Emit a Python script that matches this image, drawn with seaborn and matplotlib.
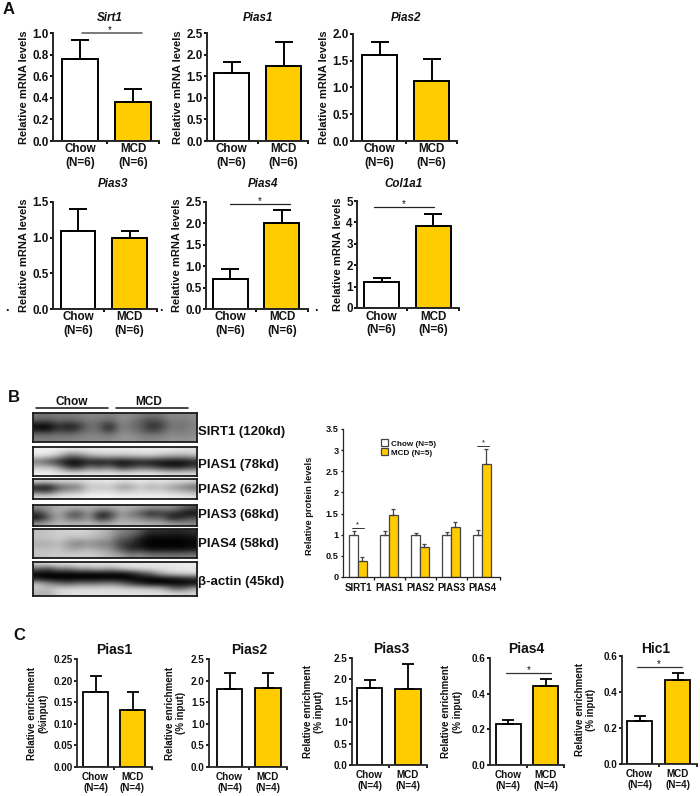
import pandas as pd
import matplotlib
matplotlib.use("Agg")
import matplotlib.pyplot as plt
from matplotlib.transforms import ScaledTranslation
import seaborn as sns

W, H = 700, 796
WHITE = "#FFFFFF"
GOLD = "#FFCC00"

groups = ["Chow", "MCD"]

# Panel A: bar height, error
sirt1, sirt1_err = [0.76, 0.36], [0.175, 0.125]
pias1, pias1_err = [1.57, 1.74], [0.25, 0.56]
pias2, pias2_err = [1.60, 1.12], [0.25, 0.42]
pias3, pias3_err = [1.09, 0.99], [0.31, 0.11]
pias4, pias4_err = [0.69, 2.01], [0.24, 0.31]
col1a1, col1a1_err = [1.23, 3.83], [0.17, 0.58]

# Panel B: protein levels
proteins = ["SIRT1", "PIAS1", "PIAS2", "PIAS3", "PIAS4"]
chow_prot, chow_prot_err = [1, 1, 1, 1, 1], [0.09, 0.09, 0.05, 0.07, 0.12]
mcd_prot, mcd_prot_err = [0.37, 1.47, 0.72, 1.19, 2.68], [0.11, 0.13, 0.07, 0.12, 0.35]

# Panel C: ChIP enrichment
c_pias1, c_pias1_err = [0.173, 0.133], [0.037, 0.040]
c_pias2, c_pias2_err = [1.80, 1.83], [0.38, 0.34]
c_pias3, c_pias3_err = [1.80, 1.78], [0.18, 0.58]
c_pias4, c_pias4_err = [0.23, 0.445], [0.02, 0.038]
c_hic1, c_hic1_err = [0.24, 0.465], [0.025, 0.04]

# Blot gray levels, 16 columns across the six lanes
blot_sirt1 = [
    [120, 115, 125, 120, 125, 135, 135, 125, 140, 140, 125, 115, 120, 140, 135, 140],
    [95, 85, 110, 100, 110, 125, 120, 105, 140, 130, 100, 75, 90, 130, 120, 135],
    [10, 5, 60, 25, 55, 115, 100, 30, 135, 115, 95, 45, 60, 125, 110, 130],
    [25, 15, 65, 40, 70, 120, 105, 40, 135, 125, 100, 60, 80, 130, 115, 135],
    [110, 105, 115, 110, 120, 130, 130, 115, 145, 140, 125, 115, 120, 140, 130, 140],
    [130, 125, 130, 130, 135, 140, 140, 135, 150, 150, 140, 135, 140, 150, 145, 150],
]
blot_pias1 = [
    [240, 240, 240, 235, 235, 235, 235, 235, 235, 235, 235, 235, 235, 235, 230, 225],
    [235, 225, 190, 110, 120, 175, 190, 200, 190, 200, 205, 215, 190, 180, 170, 190],
    [110, 70, 30, 0, 0, 20, 5, 15, 0, 5, 15, 5, 5, 0, 0, 15],
    [200, 200, 160, 50, 45, 120, 90, 125, 45, 65, 100, 85, 50, 30, 30, 70],
    [240, 240, 235, 230, 230, 230, 230, 235, 230, 230, 235, 235, 230, 225, 225, 225],
]
blot_pias2 = [
    [215, 205, 215, 215, 215, 225, 230, 235, 225, 225, 235, 225, 230, 225, 220, 215],
    [30, 10, 90, 110, 125, 205, 190, 200, 155, 155, 205, 170, 190, 155, 140, 100],
    [80, 65, 145, 170, 175, 215, 215, 225, 200, 205, 220, 205, 215, 195, 185, 165],
    [225, 220, 230, 235, 240, 245, 245, 245, 240, 240, 240, 240, 240, 235, 235, 230],
]
blot_pias3 = [
    [140, 155, 180, 185, 180, 180, 170, 175, 185, 180, 170, 150, 155, 150, 115, 85],
    [55, 125, 180, 100, 75, 165, 45, 55, 160, 125, 85, 35, 55, 60, 20, 5],
    [5, 85, 175, 110, 100, 160, 25, 70, 170, 140, 135, 95, 110, 20, 45, 80],
    [155, 170, 190, 185, 185, 185, 175, 175, 190, 185, 185, 175, 175, 160, 150, 140],
]
blot_pias4 = [
    [190, 195, 205, 210, 215, 205, 190, 170, 130, 120, 90, 40, 50, 40, 40, 50],
    [195, 200, 210, 190, 195, 190, 180, 160, 100, 90, 30, 5, 5, 5, 5, 15],
    [170, 165, 190, 150, 120, 150, 115, 130, 60, 45, 10, 0, 0, 0, 0, 5],
    [195, 190, 200, 165, 170, 185, 165, 150, 90, 35, 40, 5, 10, 10, 5, 20],
    [195, 200, 205, 205, 210, 205, 200, 180, 170, 130, 150, 120, 130, 120, 125, 130],
]
blot_actin = [
    [215, 225, 230, 230, 230, 230, 230, 230, 230, 230, 230, 230, 230, 230, 235, 235],
    [110, 70, 140, 120, 170, 165, 190, 160, 200, 215, 220, 225, 225, 225, 230, 230],
    [0, 0, 0, 0, 0, 0, 0, 5, 0, 15, 70, 100, 175, 205, 215, 220],
    [20, 0, 0, 0, 0, 0, 0, 0, 0, 0, 0, 0, 0, 10, 25, 40],
    [190, 140, 110, 90, 120, 110, 120, 130, 110, 60, 30, 0, 0, 0, 0, 0],
    [200, 185, 215, 215, 220, 220, 220, 220, 215, 210, 205, 195, 190, 120, 95, 165],
    [180, 170, 215, 220, 225, 225, 225, 225, 225, 225, 225, 225, 225, 220, 215, 215],
]

sns.set_style("ticks")
plt.rcParams["font.family"] = ["Liberation Sans", "DejaVu Sans"]
plt.rcParams["font.weight"] = "bold"
plt.rcParams["axes.labelweight"] = "bold"
plt.rcParams["axes.titleweight"] = "bold"
plt.rcParams["text.color"] = "#111111"
plt.rcParams["axes.labelcolor"] = "#111111"
plt.rcParams["xtick.color"] = "#111111"
plt.rcParams["ytick.color"] = "#111111"

fig = plt.figure(figsize=(W / 100, H / 100), dpi=100, facecolor="white")


def make_axes(l, t, r, b):
    return fig.add_axes([l / W, 1 - b / H, (r - l) / W, (b - t) / H])


def px_text(x, y, s, **kw):
    kw.setdefault("ha", "center")
    kw.setdefault("va", "center")
    fig.text(x / W, 1 - y / H, s, **kw)


def two_bars(box, centers, bar_w, values, errs, yticks, yticklabels, title, title_pos, ylabel,
             n_label, fs=8.4, lab_fs=8, title_fs=8.4, style="italic", cap=6.8, lw=1.4, labelpad=2.5,
             xpad=1.8):
    l, t, r, b = box
    ax = make_axes(l, t, r, b)
    unit = centers[1] - centers[0]
    df = pd.DataFrame({"group": groups, "value": values})
    sns.barplot(data=df, x="group", y="value", hue="group", palette=[WHITE, GOLD], dodge=False, saturation=1,
                width=bar_w / unit, edgecolor="black", linewidth=lw, errorbar=None, legend=False, ax=ax)
    ax.errorbar([0, 1], values, yerr=[[0, 0], errs], fmt="none", ecolor="black", elinewidth=lw,
                capsize=cap, capthick=lw, zorder=1)
    ax.set_xlim((l - centers[0]) / unit, (r - centers[0]) / unit)
    ax.set_ylim(yticks[0], yticks[-1])
    ax.set_yticks(yticks)
    ax.set_yticklabels(yticklabels, fontsize=fs)
    ax.set_xticks([0, 1])
    ax.set_xticklabels([f"{g}\n(N={n_label})" for g in groups], fontsize=fs)
    ax.set_xticks([0.5, (r - centers[0]) / unit], minor=True)
    ax.tick_params(axis="x", which="major", length=0, pad=xpad)
    ax.tick_params(axis="x", which="minor", length=2.2, width=lw, direction="out")
    ax.tick_params(axis="y", length=2.2, width=lw, pad=0.8)
    ax.set_xlabel("")
    ax.set_ylabel(ylabel, fontsize=lab_fs, labelpad=labelpad)
    sns.despine(ax=ax)
    ax.spines["left"].set_linewidth(lw)
    ax.spines["bottom"].set_linewidth(lw)
    px_text(title_pos[0], title_pos[1], title, fontsize=title_fs, style=style, fontweight="bold")
    return ax


def sig(x0, x1, y, star_x, star_y, color="#333333", lw=0.9, fs=7):
    fig.add_artist(plt.Line2D([x0 / W, x1 / W], [1 - y / H, 1 - y / H], color=color, lw=lw))
    px_text(star_x, star_y, "*", fontsize=fs, fontweight="normal")


def blot(box, matrix):
    ax = make_axes(*box)
    ax.imshow(matrix, cmap="gray", vmin=0, vmax=255, aspect="auto", interpolation="bicubic")
    ax.set_xticks([])
    ax.set_yticks([])
    for s in ax.spines.values():
        s.set_linewidth(1.3)
        s.set_color("#1a1a1a")
    return ax


# Panel A
mrna = "Relative mRNA levels"
two_bars((53, 33, 159, 141), (80, 133), 36, sirt1, sirt1_err, [0, .2, .4, .6, .8, 1.0],
         ["0.0", "0.2", "0.4", "0.6", "0.8", "1.0"], "Sirt1", (110, 18), mrna, 6)
two_bars((207, 33, 308, 141), (231.5, 283.5), 35, pias1, pias1_err, [0, .5, 1, 1.5, 2, 2.5],
         ["0.0", "0.5", "1.0", "1.5", "2.0", "2.5"], "Pias1", (258, 18), mrna, 6)
two_bars((353, 34, 457, 141), (379.5, 431.5), 35, pias2, pias2_err, [0, .5, 1, 1.5, 2],
         ["0.0", "0.5", "1.0", "1.5", "2.0"], "Pias2", (406, 18), mrna, 6)
two_bars((53, 202, 157, 309), (78, 129.5), 34.5, pias3, pias3_err, [0, .5, 1, 1.5],
         ["0.0", "0.5", "1.0", "1.5"], "Pias3", (113, 184), mrna, 6)
two_bars((206, 202, 308, 309), (230.5, 282), 35, pias4, pias4_err, [0, .5, 1, 1.5, 2, 2.5],
         ["0.0", "0.5", "1.0", "1.5", "2.0", "2.5"], "Pias4", (263, 184), mrna, 6)
two_bars((357, 201, 459, 308), (381.5, 433), 35, col1a1, col1a1_err, [0, 1, 2, 3, 4, 5],
         ["0", "1", "2", "3", "4", "5"], "Col1a1", (404, 184), mrna, 6)
sig(82, 142, 33, 110, 30, color="#555555", lw=1.1)
sig(230, 290, 204, 260, 201, color="#222222")
sig(374, 434, 207, 404, 204, color="#222222")
for dot_x in (7, 161, 316):
    px_text(dot_x, 308, ".", fontsize=9)

# Panel B blots
px_text(72, 402, "Chow", fontsize=8.6)
px_text(149, 402, "MCD", fontsize=8.6)
fig.add_artist(plt.Line2D([36 / W, 108 / W], [1 - 408 / H] * 2, color="#111111", lw=1.1))
fig.add_artist(plt.Line2D([116 / W, 188 / W], [1 - 408 / H] * 2, color="#111111", lw=1.1))
blot((33, 413, 197, 442), blot_sirt1)
blot((33, 447, 197, 476), blot_pias1)
blot((33, 479, 197, 499), blot_pias2)
blot((33, 505, 197, 526), blot_pias3)
blot((33, 529, 197, 558), blot_pias4)
blot((33, 562, 197, 596), blot_actin)
blot_labels = ["SIRT1 (120kd)", "PIAS1 (78kd)", "PIAS2 (62kd)", "PIAS3 (68kd)", "PIAS4 (58kd)", "β-actin (45kd)"]
for lab, y in zip(blot_labels, (432, 465, 490, 515, 544, 582)):
    px_text(198, y, lab, fontsize=9.5, ha="left")

# Panel B bar chart
ax = make_axes(343, 429, 500, 577)
prot_df = pd.DataFrame({
    "protein": proteins * 2,
    "group": ["Chow (N=5)"] * 5 + ["MCD (N=5)"] * 5,
    "level": chow_prot + mcd_prot,
})
sns.barplot(data=prot_df, x="protein", y="level", hue="group", palette=[WHITE, GOLD], width=0.58, gap=0,
            saturation=1, edgecolor="#444444", linewidth=0.9, errorbar=None, ax=ax)
for cont, vals, errs in zip(ax.containers, (chow_prot, mcd_prot), (chow_prot_err, mcd_prot_err)):
    xs = [p.get_x() + p.get_width() / 2 for p in cont]
    ax.errorbar(xs, vals, yerr=[[0] * 5, errs], fmt="none", ecolor="#444444", elinewidth=0.9,
                capsize=1.6, capthick=0.9, zorder=1)
ax.set_xlim((343 - 358) / 31, (500 - 358) / 31)
ax.set_ylim(0, 3.5)
ax.set_yticks([0, .5, 1, 1.5, 2, 2.5, 3, 3.5])
ax.set_yticklabels(["0", "0.5", "1", "1.5", "2", "2.5", "3", "3.5"], fontsize=6.6)
ax.set_xticks(range(5))
ax.set_xticklabels(proteins, fontsize=7)
# the group labels sit a little right of the bars
for lab in ax.get_xticklabels():
    lab.set_transform(lab.get_transform() + ScaledTranslation(2.5 / 100, 0, fig.dpi_scale_trans))
ax.set_xticks([0.5, 1.5, 2.5, 3.5, (500 - 358) / 31], minor=True)
ax.tick_params(axis="x", which="major", length=0, pad=4.5)
ax.tick_params(axis="x", which="minor", length=1.8, width=0.9)
ax.tick_params(axis="y", length=1.8, width=0.9, pad=1.5)
ax.set_xlabel("")
ax.set_ylabel("Relative protein levels", fontsize=6.7, labelpad=8, y=0.48)
sns.despine(ax=ax)
ax.spines["left"].set_linewidth(0.9)
ax.spines["bottom"].set_linewidth(0.9)
ax.legend(loc="upper left", bbox_to_anchor=(0.24, 0.93), frameon=False, fontsize=5.9, handlelength=0.9,
          handleheight=0.9, handletextpad=0.4, labelspacing=0.1, borderpad=0, borderaxespad=0)
sig(352, 364, 528, 357, 525, lw=0.7, fs=5.5)
sig(477, 489, 446, 483, 443, lw=0.7, fs=5.5)

# Panel C
chip_kw = dict(fs=7.1, lab_fs=7, title_fs=10, style="normal", cap=4.5, lw=1.3, xpad=3.5)
two_bars((77, 659, 152, 767), (95.5, 132.5), 25, c_pias1, c_pias1_err, [0, .05, .1, .15, .2, .25],
         ["0.00", "0.05", "0.10", "0.15", "0.20", "0.25"], "Pias1", (114, 650),
         "Relative enrichment\n(%input)", 4, labelpad=3.5, **chip_kw)
two_bars((209, 659, 287, 767), (229.5, 268), 25.5, c_pias2, c_pias2_err, [0, .5, 1, 1.5, 2, 2.5],
         ["0.0", "0.5", "1.0", "1.5", "2.0", "2.5"], "Pias2", (249, 650),
         "Relative enrichment\n(% input)", 4, labelpad=3.5, **chip_kw)
two_bars((352, 658, 427, 765), (369.5, 408), 25.5, c_pias3, c_pias3_err, [0, .5, 1, 1.5, 2, 2.5],
         ["0.0", "0.5", "1.0", "1.5", "2.0", "2.5"], "Pias3", (391, 649),
         "Relative enrichment\n(% input)", 4, labelpad=7, **chip_kw)
two_bars((490, 658, 564, 765), (508.5, 545.5), 25, c_pias4, c_pias4_err, [0, .2, .4, .6],
         ["0.0", "0.2", "0.4", "0.6"], "Pias4", (526, 649),
         "Relative enrichment\n(% input)", 4, labelpad=6.5, **chip_kw)
two_bars((622, 656, 697, 764), (639.5, 677.5), 25, c_hic1, c_hic1_err, [0, .2, .4, .6],
         ["0.0", "0.2", "0.4", "0.6"], "Hic1", (656, 649),
         "Relative enrichment\n(% input)", 4, labelpad=5.5, **chip_kw)
sig(506, 551, 673, 529, 670, lw=0.9, fs=7)
sig(637, 682, 667, 659, 664, lw=0.9, fs=7)

# Panel letters
px_text(9, 9, "A", fontsize=12)
px_text(14, 397, "B", fontsize=12)
px_text(19, 635, "C", fontsize=12)

fig.savefig("out.png", dpi=100)
